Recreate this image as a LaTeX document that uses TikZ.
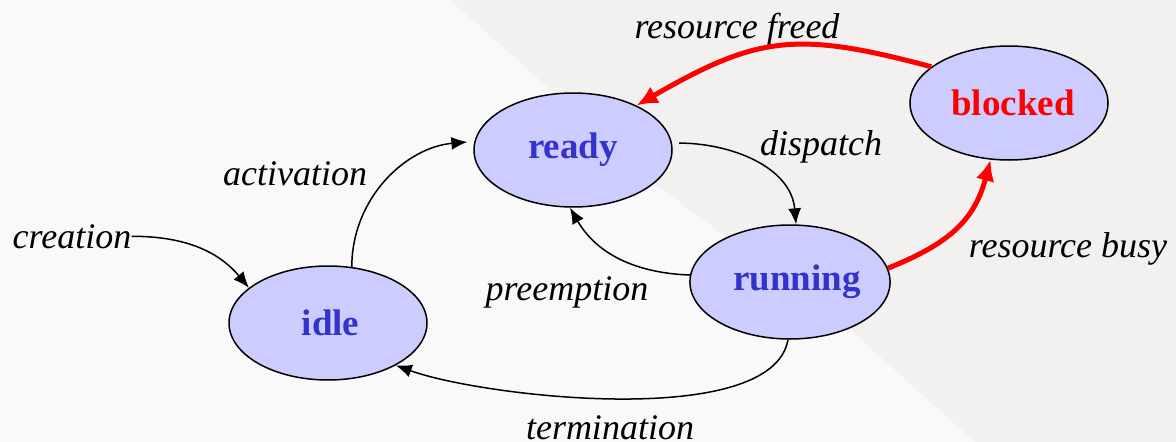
\documentclass[tikz,border=0pt]{standalone}
\usepackage{fontspec}
\setmainfont{Liberation Serif}
\usetikzlibrary{shapes.geometric,arrows.meta}

\definecolor{stfill}{HTML}{CCCCFF}
\definecolor{sttext}{HTML}{3333CC}
\definecolor{bggray}{HTML}{F3F0F0}
\definecolor{bglight}{HTML}{FAF9F9}

\tikzset{
  state/.style={ellipse,draw,line width=1.5pt,fill=stfill,minimum width=198pt,
    minimum height=114pt,inner sep=0pt,text=sttext,
    font=\fontsize{37}{40}\selectfont\bfseries},
  lbl/.style={anchor=base,inner sep=0pt,font=\fontsize{36}{40}\selectfont\itshape},
  trans/.style={line width=1.5pt,-{Latex[length=16pt,width=13pt]}},
  hot/.style={line width=5pt,red,-{Latex[length=21pt,width=19pt]}}
}

\begin{document}
\begin{tikzpicture}[x=1pt,y=-1pt]
% background
\fill[bggray] (0,0) rectangle (1176,442);
\fill[bglight] (0,0) -- (450,0) -- (545,85) -- (650,180) -- (850,330) -- (975,442) -- (0,442) -- cycle;
\useasboundingbox (0,0) rectangle (1176,442);

% states
\node[state] (ready) at (573,150) {ready\hspace{20pt}};
\node[state] (running) at (790,282) {\hspace{14pt}running};
\node[state] (idle) at (328,323) {\hspace{5pt}idle};
\node[state,text=red] (blocked) at (1009,103) {\hspace{8pt}blocked};

% labels
\node[lbl] (creation) at (72,248) {creation};
\node[lbl] (activation) at (295,185) {activation};
\node[lbl] (dispatch) at (821,155) {dispatch};
\node[lbl] (preemption) at (567,300) {preemption};
\node[lbl] (termination) at (610,439) {termination};
\node[lbl] (freed) at (737,38) {resource freed};
\node[lbl] (busy) at (1068,257) {resource busy};

% transitions
\draw[trans] (creation.east) to[out=0,in=130] (idle.156);
\draw[trans,shorten >=7pt] (idle.67) to[out=90,in=185] (ready.175);
\draw[trans,shorten <=7pt] (ready.4) to[out=0,in=95] (running.84);
\draw[trans] (running.176) to[out=178,in=-60] (ready.-93);
\draw[trans] (running.-92) to[out=-100,in=-20,looseness=0.6] (idle.-32);
\draw[hot] (blocked.155) to[out=165,in=30,looseness=1.2] (ready.35);
\draw[hot] (running.8) to[out=22,in=-105,looseness=1.1] (blocked.-108);
\end{tikzpicture}
\end{document}
